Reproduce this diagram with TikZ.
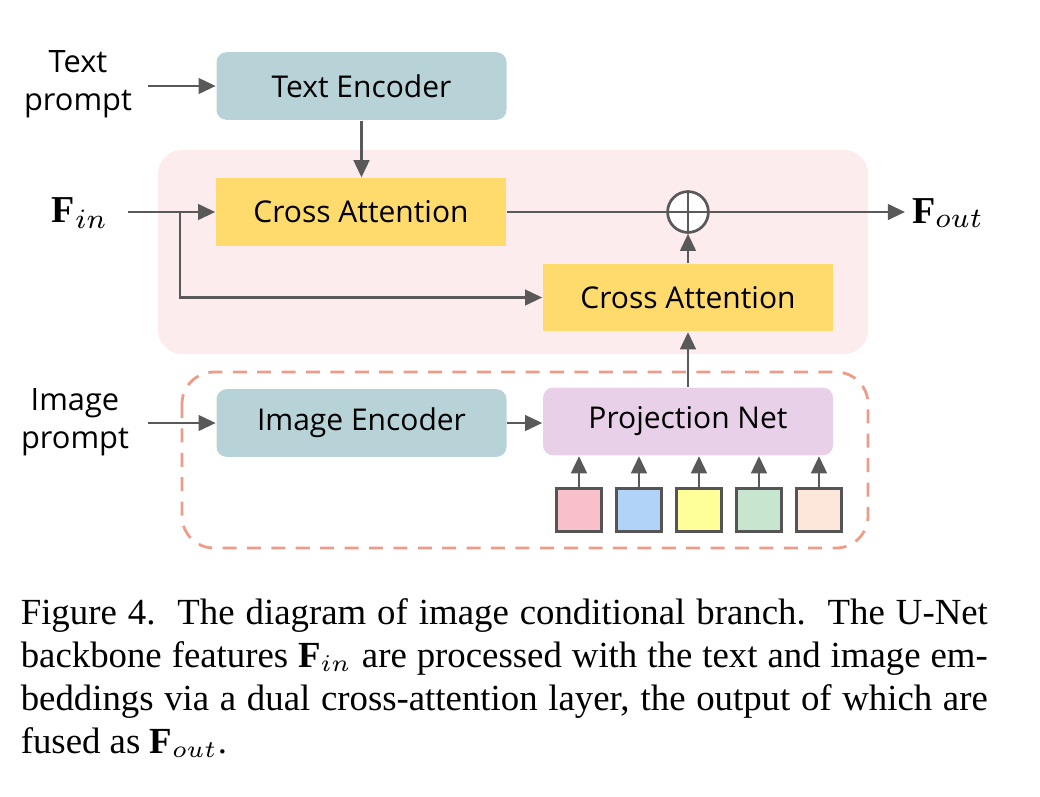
\documentclass[tikz,border=0pt]{standalone}
\usepackage{fontspec}
\setmainfont{Liberation Serif}
\newfontfamily\diagfont{Open Sans}
\usetikzlibrary{arrows.meta}
\definecolor{encfill}{RGB}{183,211,216}
\definecolor{attfill}{RGB}{255,218,108}
\definecolor{projfill}{RGB}{232,208,232}
\definecolor{pinkbg}{RGB}{253,236,238}
\definecolor{dashcol}{RGB}{238,155,136}
\definecolor{arrcol}{RGB}{89,89,89}
\definecolor{sqa}{RGB}{249,191,203}
\definecolor{sqb}{RGB}{177,211,247}
\definecolor{sqc}{RGB}{255,255,153}
\definecolor{sqd}{RGB}{200,230,207}
\definecolor{sqe}{RGB}{252,231,218}
\definecolor{sqborder}{RGB}{85,85,85}
\tikzset{
  boxbase/.style={inner sep=0pt, minimum width=72.5pt, minimum height=16.9pt,
    font=\diagfont\fontsize{7.5}{9}\selectfont},
  encbox/.style={boxbase, fill=encfill, rounded corners=2.5pt},
  attbox/.style={boxbase, fill=attfill},
  projbox/.style={boxbase, fill=projfill, rounded corners=2.5pt},
  lbl/.style={align=center, inner sep=0pt, font=\diagfont\fontsize{7.7}{9.6}\selectfont},
  mathlbl/.style={inner sep=0pt, font=\fontsize{9.5}{11}\selectfont},
  arr/.style={draw=arrcol, line width=0.68pt, -{Triangle[length=4.3pt,width=3.9pt]}},
  plain/.style={draw=arrcol, line width=0.68pt},
  plusnode/.style={circle, draw=arrcol, line width=0.68pt, fill=white, minimum size=10.2pt, inner sep=0pt},
  sqbox/.style={draw=sqborder, line width=0.75pt, minimum width=11.25pt, minimum height=10.75pt, inner sep=0pt}
}
\begin{document}
\begin{tikzpicture}[x=0.25pt,y=-0.25pt]
\useasboundingbox (0,0) rectangle (1040,796);
% regions
\fill[pinkbg, rounded corners=6pt] (158,150) rectangle (868,354);
\draw[dashcol, line width=0.7pt, dash pattern=on 3.5pt off 2.6pt, rounded corners=8pt] (182,372) rectangle (868,548);
% boxes
\node[encbox] (te) at (361.5,86) {Text Encoder};
\node[attbox] (ca1) at (361,212) {Cross Attention};
\node[attbox] (ca2) at (688,297.5) {Cross Attention};
\node[encbox] (ie) at (361.5,423) {Image Encoder};
\node[projbox] (pn) at (688,421.5) {Projection Net};
\node[plusnode] (op) at (688,212) {};
\draw[plain] (op.north) -- (op.south);
\draw[plain] (op.west) -- (op.east);
% squares
\node[sqbox, fill=sqa] (s1) at (579,510) {};
\node[sqbox, fill=sqb] (s2) at (639,510) {};
\node[sqbox, fill=sqc] (s3) at (699,510) {};
\node[sqbox, fill=sqd] (s4) at (759,510) {};
\node[sqbox, fill=sqe] (s5) at (819,510) {};
% labels
\node[lbl] (tp) at (78,84) {Text\\prompt};
\node[lbl] (ip) at (75,422) {Image\\prompt};
\node[mathlbl] (fin) at (80,213) {$\mathbf{F}_{in}$};
\node[mathlbl] (fout) at (948,213) {$\mathbf{F}_{out}$};
\coordinate (tpe) at (148,86);
\coordinate (ipe) at (148,423);
\coordinate (fine) at (128,212);
\coordinate (br) at (180,212);
\coordinate (foute) at (905,212);
% connectors
\draw[arr] (tpe) -- (te.west);
\draw[arr] (te.south) -- (te.south |- ca1.north);
\draw[arr] (fine) -- (ca1.west);
\draw[arr] (br) |- (ca2.west);
\draw[plain] (ca1.east) -- (op.west);
\draw[arr] (op.east) -- (foute);
\draw[arr] (ca2.north) -- (op.south);
\draw[arr] (pn.north) -- (ca2.south);
\draw[arr] (ipe) -- (ie.west);
\draw[arr] (ie.east) -- (ie.east -| pn.west);
\foreach \s in {s1,s2,s3,s4,s5}{
  \draw[arr] (\s.north) -- (\s.north |- pn.south);
}
% caption
\node[anchor=north west, inner sep=0pt, text width=241.75pt, align=justify,
  font=\fontsize{9.2}{10.7}\selectfont] (cap) at (20,598)
{Figure 4.\ \ The diagram of image conditional branch.\ \ The U-Net\linebreak
backbone features $\mathbf{F}_{in}$ are processed with the text and image em-\linebreak
beddings via a dual cross-attention layer, the output of which are\linebreak
fused as $\mathbf{F}_{out}$.};
\end{tikzpicture}
\end{document}
